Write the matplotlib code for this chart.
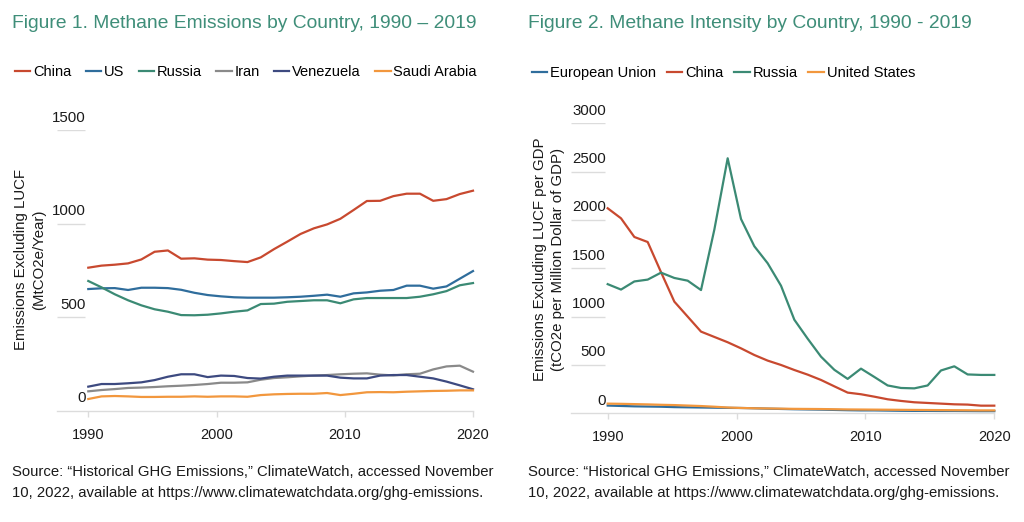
import numpy as np
import matplotlib
matplotlib.use("Agg")
import matplotlib.pyplot as plt

plt.rcParams['font.family'] = ['Liberation Sans', 'DejaVu Sans']

# ---------------- data ----------------
years = list(range(1990, 2020))

# Figure 1: Methane emissions (MtCO2e / year)
china_em = [765, 776, 781, 788, 809, 850, 857, 813, 815, 808, 806, 800, 795, 820, 864,
            904, 945, 975, 996, 1026, 1073, 1121, 1122, 1147, 1160, 1160, 1122, 1131, 1158, 1176]
us_em = [651, 655, 656, 646, 658, 658, 656, 647, 631, 619, 612, 607, 605, 605, 605,
         607, 610, 615, 621, 610, 628, 633, 642, 646, 669, 669, 653, 665, 706, 747]
russia_em = [694, 660, 623, 591, 564, 543, 530, 512, 511, 514, 521, 530, 537, 571, 573,
             583, 587, 591, 591, 575, 596, 603, 603, 603, 603, 610, 623, 640, 671, 683]
iran_em = [105, 112, 117, 123, 125, 128, 132, 135, 139, 144, 151, 151, 153, 167, 176,
           180, 185, 189, 192, 196, 199, 201, 194, 190, 196, 199, 222, 238, 242, 210]
venezuela_em = [130, 144, 144, 148, 153, 165, 183, 196, 196, 181, 189, 187, 176, 173, 183,
                189, 189, 189, 189, 178, 174, 174, 189, 192, 192, 183, 174, 157, 137, 116]
saudi_em = [64, 78, 80, 78, 75, 75, 76, 76, 78, 76, 78, 78, 76, 85, 89,
            91, 92, 92, 96, 85, 92, 100, 101, 100, 103, 105, 107, 108, 110, 110]

# Figure 2: Methane intensity (tCO2e per million dollar of GDP)
eu_int = [80, 76, 72, 70, 68, 64, 62, 60, 58, 56, 55, 52, 48, 45, 42,
          40, 38, 35, 32, 30, 30, 28, 26, 25, 25, 24, 24, 23, 22, 22]
china_int = [2121, 2017, 1824, 1772, 1460, 1155, 1000, 845, 790, 735, 672, 603, 545, 500, 448,
             400, 345, 279, 214, 197, 172, 145, 128, 114, 107, 100, 93, 90, 79, 79]
russia_int = [1336, 1280, 1364, 1383, 1455, 1400, 1372, 1275, 1900, 2638, 2010, 1728, 1552, 1320, 968,
              772, 586, 450, 356, 462, 376, 288, 262, 258, 288, 443, 486, 402, 397, 397]
us_int = [100, 98, 95, 92, 88, 85, 80, 75, 68, 60, 55, 52, 50, 48, 46,
          45, 44, 42, 40, 39, 38, 37, 36, 35, 34, 33, 32, 31, 30, 30]

xticks = [1990, 2000, 2010, 2020]
yticks1 = [0, 500, 1000, 1500]
yticks2 = [0, 500, 1000, 1500, 2000, 2500, 3000]

# ---------------- style ----------------
RED = '#c8492f'
BLUE = '#2f6d9c'
GREEN = '#3b8a74'
GREY = '#8a8a8a'
NAVY = '#3d4a80'
ORANGE = '#f2973d'
TITLE_C = '#3f8e79'
GRID_C = '#dcdcdc'
TXT = '#1a1a1a'

fig = plt.figure(figsize=(10.24, 5.22), dpi=100)

# positions along the category axis (30 yearly points spread over 1990-2020)
xpos = np.linspace(1990, 2020, len(years))


def setup(ax, yticks, ymax, xleft, grid_frac, label_x_px):
    ax.set_xlim(xleft, 2020)
    ax.set_ylim(0, ymax)
    for s in ['top', 'right', 'left']:
        ax.spines[s].set_visible(False)
    ax.spines['bottom'].set_color(GRID_C)
    ax.spines['bottom'].set_linewidth(1.0)
    ax.set_yticks([])
    ax.set_xticks(xticks)
    ax.set_xticklabels([str(t) for t in xticks])
    ax.tick_params(axis='x', length=4, width=1, color=GRID_C, pad=8,
                   labelsize=10.5, labelcolor=TXT)
    trans = ax.get_yaxis_transform()
    ax.hlines([t for t in yticks if t > 0], 0, grid_frac, transform=trans,
              color=GRID_C, lw=1.0, zorder=0)
    for t in yticks:
        ax.annotate(str(t), xy=(label_x_px, t), xycoords=('axes pixels', 'data'),
                    xytext=(0, 9.0), textcoords='offset points',
                    ha='right', va='center', fontsize=10.8, color=TXT)


# ---------------- Figure 1 ----------------
ax1 = fig.add_axes([57 / 1024, 1 - 411 / 522, 416 / 1024, 281 / 522])
setup(ax1, yticks1, 1500, 1990 - (88.3 - 57) / 12.83, 28 / 416, 29)
lw = 1.6
ax1.plot(xpos, china_em, color=RED, lw=lw, label='China', clip_on=False)
ax1.plot(xpos, us_em, color=BLUE, lw=lw, label='US', clip_on=False)
ax1.plot(xpos, russia_em, color=GREEN, lw=lw, label='Russia', clip_on=False)
ax1.plot(xpos, iran_em, color=GREY, lw=lw, label='Iran', clip_on=False)
ax1.plot(xpos, venezuela_em, color=NAVY, lw=lw, label='Venezuela', clip_on=False)
ax1.plot(xpos, saudi_em, color=ORANGE, lw=lw, label='Saudi Arabia', clip_on=False)
fig.text(30 / 1024, 1 - 260 / 522, 'Emissions Excluding LUCF\n(MtCO2e/Year)',
         rotation=90, ha='center', va='center',
         fontsize=10.8, color=TXT, linespacing=1.3, multialignment='center')

# ---------------- Figure 2 ----------------
ax2 = fig.add_axes([571 / 1024, 1 - 413.3 / 522, 423.3 / 1024, 290 / 522])
setup(ax2, yticks2, 3000, 1990 - (607.7 - 571) / 12.89, 34 / 423.3, 35)
ax2.plot(xpos, eu_int, color=BLUE, lw=lw, label='European Union', clip_on=False)
ax2.plot(xpos, china_int, color=RED, lw=lw, label='China', clip_on=False)
ax2.plot(xpos, russia_int, color=GREEN, lw=lw, label='Russia', clip_on=False)
ax2.plot(xpos, us_int, color=ORANGE, lw=lw, label='United States', clip_on=False)
fig.text(549 / 1024, 1 - 259 / 522,
         'Emissions Excluding LUCF per GDP\n(tCO2e per Million Dollar of GDP)',
         rotation=90, ha='center', va='center', fontsize=10.8, color=TXT,
         linespacing=1.3, multialignment='center')

# ---------------- titles & legends ----------------
fig.text(11.5 / 1024, 1 - 23 / 522, 'Figure 1. Methane Emissions by Country, 1990 – 2019',
         ha='left', va='center', fontsize=13.85, color=TITLE_C)
fig.text(528.5 / 1024, 1 - 23 / 522, 'Figure 2. Methane Intensity by Country, 1990 - 2019',
         ha='left', va='center', fontsize=13.85, color=TITLE_C)

leg_kw = dict(frameon=False, fontsize=10.5, handlelength=1.05, handletextpad=0.2,
              borderpad=0, borderaxespad=0, loc='center left')
h1, l1 = ax1.get_legend_handles_labels()
fig.legend(h1, l1, ncol=6, bbox_to_anchor=(15 / 1024, 1 - 72 / 522),
           columnspacing=0.98, **leg_kw)
h2, l2 = ax2.get_legend_handles_labels()
fig.legend(h2, l2, ncol=4, bbox_to_anchor=(532 / 1024, 1 - 73 / 522),
           columnspacing=0.74, **leg_kw)

src = ('Source: \u201cHistorical GHG Emissions,\u201d ClimateWatch, accessed November\n'
       '10, 2022, available at https://www.climatewatchdata.org/ghg-emissions.')
fig.text(12 / 1024, 1 - 482.5 / 522, src, ha='left', va='center', fontsize=10.75,
         color=TXT, linespacing=1.55)
fig.text(528 / 1024, 1 - 482.5 / 522, src, ha='left', va='center', fontsize=10.75,
         color=TXT, linespacing=1.55)

fig.savefig('out.png', dpi=100)
